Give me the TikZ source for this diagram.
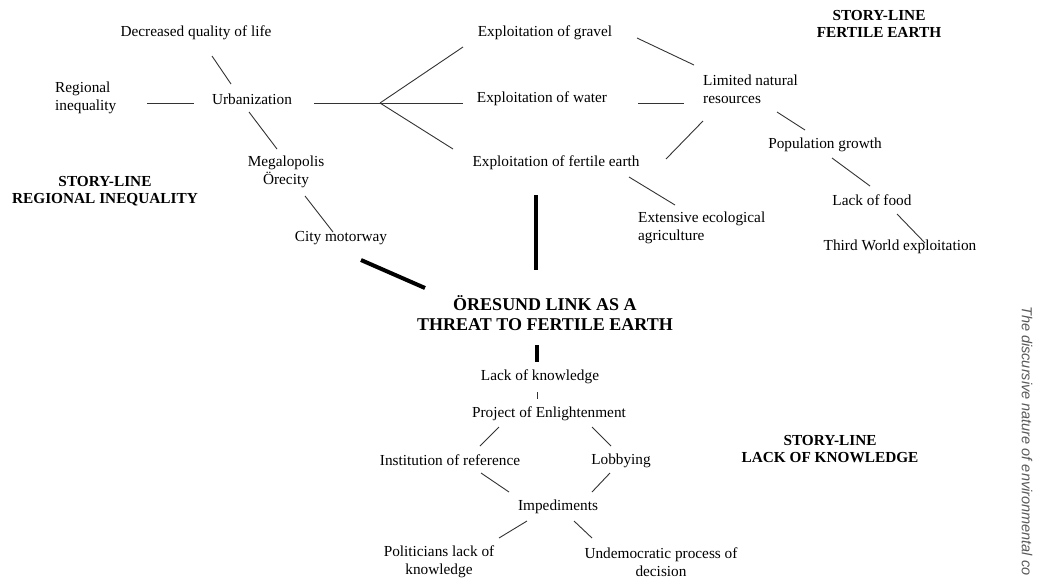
\documentclass[tikz,border=0pt]{standalone}
\usepackage{fontspec}
\setmainfont{Liberation Serif}
\setsansfont{Liberation Sans}
\usetikzlibrary{calc}
\tikzset{
  lbl/.style={inner sep=0pt, align=center, font=\fontsize{15.3}{18}\selectfont},
  lblw/.style={lbl, anchor=west, align=left},
  story/.style={inner sep=0pt, align=center, font=\fontsize{15.3}{17.5}\selectfont\bfseries},
  big/.style={inner sep=0pt, align=center, font=\fontsize{18}{20}\selectfont\bfseries},
  thin/.style={line width=0.9pt, black!80},
  thick/.style={line width=4pt, black},
}
\begin{document}
\begin{tikzpicture}[x=1pt,y=-1pt]
\fill[white] (0,0) rectangle (1042,582);
\useasboundingbox (0,0) rectangle (1042,582);
% nodes
\node[lbl] (dec) at (196,33) {Decreased quality of life};
\node[lblw] (reg) at (55,98) {Regional\\inequality};
\node[lbl] (urb) at (252,99) {Urbanization};
\node[lbl] (meg) at (286,172) {Megalopolis\\Örecity};
\node[story] (slri) at (105,191) {STORY-LINE\\REGIONAL INEQUALITY};
\node[lbl] (city) at (341,238) {City motorway};
\node[lbl] (grav) at (545,33) {Exploitation of gravel};
\node[lbl] (water) at (542,99) {Exploitation of water};
\node[lbl] (fert) at (556,163) {Exploitation of fertile earth};
\node[lblw] (lim) at (703,89) {Limited natural\\resources};
\node[lbl] (pop) at (825,145) {Population growth};
\node[lbl] (food) at (872,200) {Lack of food};
\node[lbl] (third) at (900,247) {Third World exploitation};
\node[lblw] (ext) at (638,228) {Extensive ecological\\agriculture};
\node[story] (slfe) at (879,24) {STORY-LINE\\FERTILE EARTH};
\node[big] (title) at (545,313) {ÖRESUND LINK AS A\\THREAT TO FERTILE EARTH};
\node[lbl] (lok) at (540,377) {Lack of knowledge};
\node[lbl] (proj) at (549,414) {Project of Enlightenment};
\node[lbl] (inst) at (450,460) {Institution of reference};
\node[lbl] (lobby) at (621,461) {Lobbying};
\node[lbl] (imp) at (558,507) {Impediments};
\node[lbl] (pol) at (439,562) {Politicians lack of\\knowledge};
\node[lbl] (und) at (661,562) {Undemocratic process of\\decision};
\node[story] (sllk) at (830,449) {STORY-LINE\\LACK OF KNOWLEDGE};
\node[inner sep=0pt, anchor=west, rotate=-90, text=black!65,
      font=\sffamily\itshape\fontsize{14.5}{17}\selectfont] (side) at (1027,306)
      {The discursive nature of environmental co};
\coordinate (fork) at (380,103);
% connectors
\draw[thin] ($(dec)+(16,23)$) -- ($(urb)+(-21,-15)$);
\draw[thin] ($(reg.west)+(92,5)$) -- ($(urb)+(-58,4)$);
\draw[thin] ($(urb)+(62,4)$) -- (fork);
\draw[thin] (fork) -- ($(grav)+(-82,14)$);
\draw[thin] (fork) -- ($(water)+(-79,4)$);
\draw[thin] (fork) -- ($(fert)+(-103,-14)$);
\draw[thin] ($(urb)+(-3,13)$) -- ($(meg)+(-9,-23)$);
\draw[thin] ($(meg)+(19,24)$) -- ($(city)+(-8,-6)$);
\draw[thick] ($(city)+(20,22)$) -- ($(title)+(-120,-25)$);
\draw[thin] ($(grav)+(92,5)$) -- ($(lim.west)+(-9,-24)$);
\draw[thin] ($(water)+(96,4)$) -- ($(lim.west)+(-19,14)$);
\draw[thin] ($(fert)+(110,-4)$) -- ($(lim.west)+(0,32)$);
\draw[thin] ($(fert)+(73,14)$) -- ($(ext.west)+(37,-23)$);
\draw[thin] ($(lim.west)+(74,23)$) -- ($(pop)+(-20,-15)$);
\draw[thin] ($(pop)+(7,13)$) -- ($(food)+(-2,-14)$);
\draw[thin] ($(food)+(25,14)$) -- ($(third)+(25,-4)$);
\draw[thick] ($(fert)+(-20,32)$) -- ($(title)+(-9,-43)$);
\draw[thick] ($(title)+(-8,32)$) -- ($(lok)+(-3,-15)$);
\draw[thin, line width=0.6pt] ($(lok)+(-3,15)$) -- ($(proj)+(-12,-15)$);
\draw[thin] ($(proj)+(-50,13)$) -- ($(inst)+(30,-14)$);
\draw[thin] ($(proj)+(43,13)$) -- ($(lobby)+(-10,-15)$);
\draw[thin] ($(inst)+(31,13)$) -- ($(imp)+(-49,-15)$);
\draw[thin] ($(lobby)+(-11,12)$) -- ($(imp)+(34,-15)$);
\draw[thin] ($(imp)+(-31,14)$) -- ($(pol)+(60,-24)$);
\draw[thin] ($(imp)+(16,14)$) -- ($(und)+(-69,-24)$);
\end{tikzpicture}
\end{document}
